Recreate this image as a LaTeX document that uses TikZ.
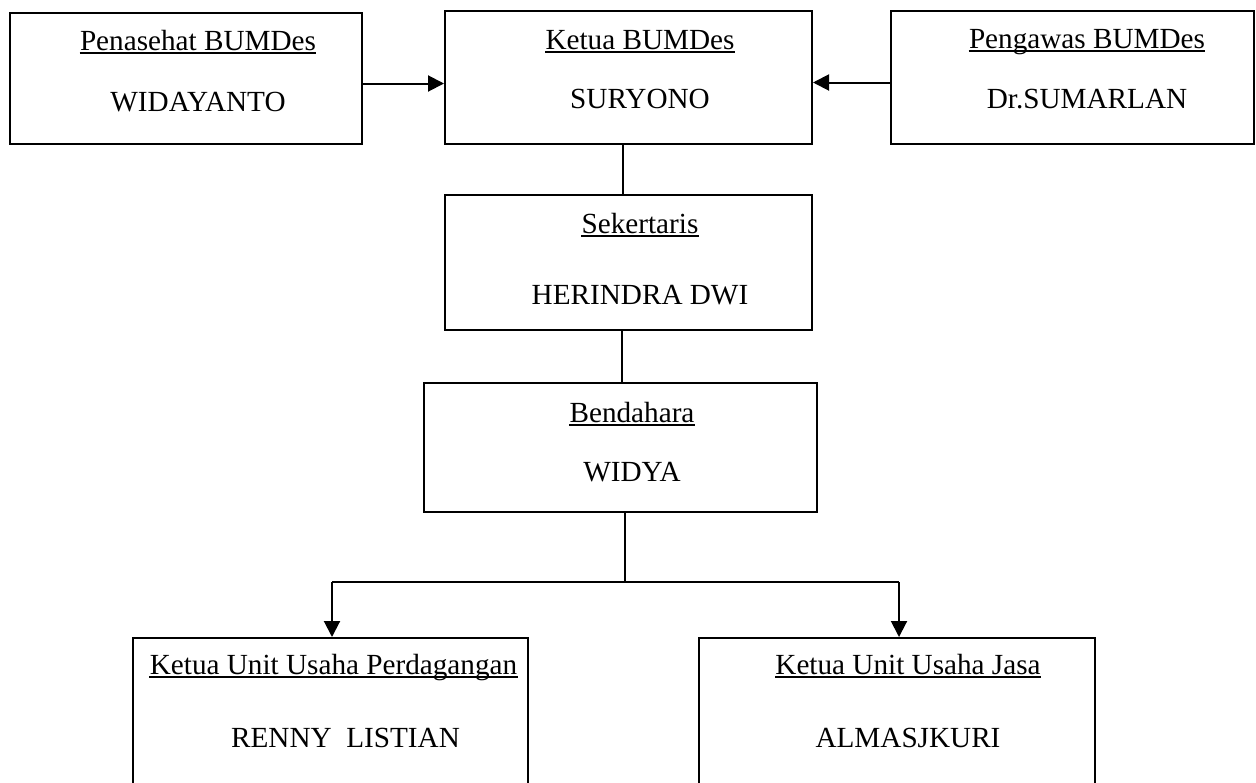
\documentclass[tikz,border=0pt]{standalone}
\usepackage{fontspec}
\setmainfont{Liberation Serif}
\usetikzlibrary{arrows.meta}
\tikzset{
  kotak/.style={draw, line width=1pt, inner sep=0pt},
  teks/.style={anchor=base, inner sep=0pt, font=\fontsize{14.6}{17}\selectfont},
  garis/.style={line width=0.75pt},
  bawah/.style={line width=0.7pt},
  panah/.style={line width=1pt, -{Triangle[length=8pt,width=8pt]}}
}
% underlined judul and nama inside one box
\newcommand{\jab}[6]{
  \node[teks] (#1-t) at (#2,#3) {#5};
  \draw[bawah] ([yshift=-1.5pt]#1-t.base west) -- ([yshift=-1.5pt]#1-t.base east);
  \node[teks] (#1-n) at (#2,#4) {#6};
}

\begin{document}
\begin{tikzpicture}[x=0.5pt,y=-0.5pt]
  \clip (0,0) rectangle (1256,782);
  \node[kotak, minimum width=176pt, minimum height=65.5pt] (penasehat) at (186,78.5) {};
  \node[kotak, minimum width=183.5pt, minimum height=66.5pt] (ketua) at (628.5,77.5) {};
  \node[kotak, minimum width=181.5pt, minimum height=66.5pt] (pengawas) at (1072.5,77.5) {};
  \node[kotak, minimum width=183.5pt, minimum height=67.5pt] (sekertaris) at (628.5,262.5) {};
  \node[kotak, minimum width=196.5pt, minimum height=64.5pt] (bendahara) at (620.5,447.5) {};
  \node[kotak, minimum width=197.5pt, minimum height=110pt] (perdagangan) at (330.5,748) {};
  \node[kotak, minimum width=198pt, minimum height=110pt] (jasa) at (897,748) {};
  \jab{penasehat}{198}{50}{111}{Penasehat BUMDes}{WIDAYANTO}
  \jab{ketua}{640}{49}{108}{Ketua BUMDes}{SURYONO}
  \jab{pengawas}{1087}{48}{108}{Pengawas BUMDes}{Dr.SUMARLAN}
  \jab{sekertaris}{640}{233}{304}{Sekertaris}{HERINDRA DWI}
  \jab{bendahara}{632}{422}{481}{Bendahara}{WIDYA}
  \node[teks] (perdagangan-t) at (333.5,674) {Ketua Unit Usaha Perdagangan};
  \draw[bawah] ([yshift=-1.5pt]perdagangan-t.base west) -- ([yshift=-1.5pt]perdagangan-t.base east);
  \node[teks] (perdagangan-n) at (345.5,747) {RENNY\ \ LISTIAN};
  \jab{jasa}{908}{674}{747}{Ketua Unit Usaha Jasa}{ALMASJKURI}
  % connectors
  \draw[panah] ([yshift=-2.5pt]penasehat.east) -- ([yshift=-2.5pt]penasehat.east -| ketua.west);
  \draw[panah] ([yshift=-2.5pt]pengawas.west) -- ([yshift=-2.5pt]pengawas.west -| ketua.east);
  \draw[garis] ([xshift=-2.75pt]ketua.south) -- ([xshift=-2.75pt]sekertaris.north);
  \draw[garis] ([xshift=-3.25pt]sekertaris.south) -- ([xshift=-3.25pt]sekertaris.south |- bendahara.north);
  \coordinate (cabang) at (625,582);
  \draw[garis] (bendahara.south -| cabang) -- (cabang);
  \draw[garis] ([xshift=0.75pt]perdagangan.north |- cabang) -- ([xshift=1pt]jasa.north |- cabang);
  \draw[panah] ([xshift=0.75pt]perdagangan.north |- cabang) -- ([xshift=0.75pt]perdagangan.north);
  \draw[panah] ([xshift=1pt]jasa.north |- cabang) -- ([xshift=1pt]jasa.north);
\end{tikzpicture}
\end{document}
